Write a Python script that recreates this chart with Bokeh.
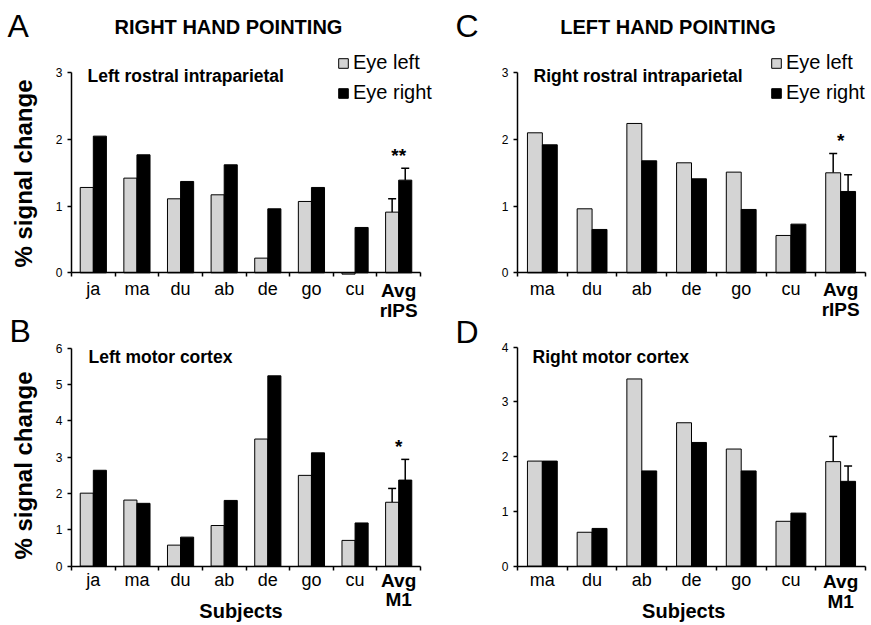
import math
import numpy as np
from bokeh.plotting import figure
from bokeh.models import (ColumnDataSource, FixedTicker, Label, Legend, LegendItem,
                          LinearAxis, Range1d, Whisker, TeeHead)
from bokeh.transform import dodge
from bokeh.embed import file_html
from bokeh.resources import INLINE

# ---------------- data ----------------
subjects_rh = ["ja", "ma", "du", "ab", "de", "go", "cu"]
subjects_lh = ["ma", "du", "ab", "de", "go", "cu"]

# A: right hand pointing, left rostral intraparietal (last = average)
a_eye_left = [1.28, 1.42, 1.11, 1.17, 0.22, 1.07, -0.02, 0.91]
a_eye_right = [2.05, 1.77, 1.37, 1.62, 0.96, 1.28, 0.68, 1.39]
a_sem = [0.20, 0.18]
a_yticks = [0, 1, 2, 3]

# B: right hand pointing, left motor cortex
b_eye_left = [2.01, 1.82, 0.58, 1.12, 3.50, 2.50, 0.71, 1.76]
b_eye_right = [2.64, 1.73, 0.80, 1.81, 5.24, 3.12, 1.19, 2.37]
b_sem = [0.38, 0.57]
b_yticks = [0, 1, 2, 3, 4, 5, 6]

# C: left hand pointing, right rostral intraparietal
c_eye_left = [2.10, 0.96, 2.24, 1.65, 1.51, 0.56, 1.50]
c_eye_right = [1.92, 0.65, 1.68, 1.41, 0.95, 0.73, 1.22]
c_sem = [0.29, 0.25]
c_yticks = [0, 1, 2, 3]

# D: left hand pointing, right motor cortex
d_eye_left = [1.92, 0.62, 3.42, 2.62, 2.14, 0.82, 1.91]
d_eye_right = [1.92, 0.69, 1.74, 2.26, 1.74, 0.97, 1.55]
d_sem = [0.46, 0.28]
d_yticks = [0, 1, 2, 3, 4]

series_names = ["Eye left", "Eye right"]

FONT = "Liberation Sans"
GRAY = "#d4d4d4"
W, H = 871, 625

p = figure(width=W, height=H, x_range=Range1d(0, W), y_range=Range1d(0, H),
           x_axis_type=None, y_axis_type=None, output_backend="svg",
           toolbar_location=None, min_border=0)
p.outline_line_color = None
p.background_fill_color = "white"
p.border_fill_color = "white"


def sx(X):
    return X


def sy(Y):
    return H - Y


def text(t, X, Y, size, bold=False, align="left", angle=0.0):
    # (X, Y) is the visual centre line of the text in page pixels
    p.add_layout(Label(x=sx(X), y=sy(Y), x_units="screen", y_units="screen", text=t,
                       text_font=FONT, text_font_size=size,
                       text_font_style="bold" if bold else "normal",
                       text_align=align, text_baseline="middle", angle=angle,
                       text_color="black"))


def panel(key, rect, subjects, avg_name, left, right, sem, yticks, region, region_pos,
          sig=None, legend_pos=None, label_standoff=2, avg_centers=(290, 310)):
    x0, x1, y0, y1 = rect  # page px of data x=0, x=n, y=0, y=ymax
    n = len(subjects) + 1
    ymax = yticks[-1]
    kx = (x1 - x0) / n
    ky = (y0 - y1) / ymax
    xr_name, yr_name = "x" + key, "y" + key
    p.extra_x_ranges[xr_name] = Range1d(-x0 / kx, (W - x0) / kx)
    p.extra_y_ranges[yr_name] = Range1d(-(H - y0) / ky, y0 / ky)
    rn = dict(x_range_name=xr_name, y_range_name=yr_name)

    centers = np.arange(n) + 0.5
    src = ColumnDataSource(dict(x=centers, left=left, right=right))
    r_left = p.vbar(x=dodge("x", -0.15), top="left", bottom=0, width=0.3, source=src,
                    fill_color=GRAY, line_color="black", line_width=1, **rn)
    r_right = p.vbar(x=dodge("x", 0.15), top="right", bottom=0, width=0.3, source=src,
                     fill_color="black", line_color="black", line_width=1, **rn)

    lo = [left[-1], right[-1]]
    up = [lo[0] + sem[0], lo[1] + sem[1]]
    wsrc = ColumnDataSource(dict(base=[centers[-1] - 0.15, centers[-1] + 0.15],
                                 lower=lo, upper=up))
    p.add_layout(Whisker(base="base", lower="lower", upper="upper", source=wsrc,
                         line_color="black", line_width=1.5, lower_head=None,
                         upper_head=TeeHead(size=8, line_color="black", line_width=1.5),
                         **rn))
    if sig:
        p.add_layout(Label(x=centers[-1], y=max(up), text=sig, text_align="center",
                           text_baseline="middle", y_offset=13, text_font=FONT,
                           text_font_size="19px", text_font_style="bold",
                           text_color="black", **rn))

    yax = LinearAxis(fixed_location=0, bounds=(0, ymax), ticker=FixedTicker(ticks=yticks), **rn)
    yax.major_tick_out = 4
    yax.major_tick_in = 0
    yax.minor_tick_out = 0
    yax.minor_tick_in = 0
    yax.axis_line_width = 1.5
    yax.major_tick_line_width = 1.5
    yax.major_label_text_font = FONT
    yax.major_label_text_font_size = "12px"
    yax.major_label_text_color = "black"
    yax.major_label_standoff = 5
    p.add_layout(yax, "left")

    overrides = {float(c): s for c, s in zip(centers[:-1], subjects)}
    overrides[float(centers[-1])] = ""
    xax = LinearAxis(fixed_location=0, bounds=(0, n),
                     ticker=FixedTicker(ticks=list(centers), minor_ticks=list(range(n + 1))),
                     major_label_overrides=overrides, **rn)
    xax.major_tick_out = 0
    xax.major_tick_in = 0
    xax.minor_tick_out = 4
    xax.minor_tick_in = 0
    xax.minor_tick_line_width = 1.5
    xax.axis_line_width = 1.5
    xax.major_label_text_font = FONT
    xax.major_label_text_font_size = "18px"
    xax.major_label_text_color = "black"
    xax.major_label_standoff = label_standoff
    p.add_layout(xax, "below")

    # bold two-line tick label of the average
    a1, a2 = avg_name.split("\n")
    for t, cy in zip((a1, a2), avg_centers):
        p.add_layout(Label(x=centers[-1], y=sy(cy), y_units="screen", text=t,
                           text_align="center", text_baseline="middle", text_font=FONT,
                           text_font_size="19px", text_font_style="bold",
                           text_color="black", x_range_name=xr_name))

    text(region, region_pos[0], region_pos[1], "17.5px", bold=True)

    if legend_pos:
        leg = Legend(items=[LegendItem(label=series_names[0], renderers=[r_left]),
                            LegendItem(label=series_names[1], renderers=[r_right])],
                     location=(sx(legend_pos[0]), sy(legend_pos[1])),
                     glyph_width=12, glyph_height=12, label_standoff=4,
                     label_text_font=FONT, label_text_font_size="20px",
                     label_text_color="black",
                     label_height=22, spacing=7, padding=0, margin=0,
                     border_line_color=None, background_fill_alpha=0)
        p.add_layout(leg)


panel("A", (71, 420, 272.3, 72.3), subjects_rh, "Avg\nrIPS", a_eye_left, a_eye_right,
      a_sem, a_yticks, "Left rostral intraparietal", (87, 75), sig="**",
      legend_pos=(337, 104), label_standoff=2, avg_centers=(290, 310))
panel("C", (517, 865, 272.3, 72.3), subjects_lh, "Avg\nrIPS", c_eye_left, c_eye_right,
      c_sem, c_yticks, "Right rostral intraparietal", (533, 75), sig="*",
      legend_pos=(770, 104), label_standoff=2, avg_centers=(289, 309))
panel("B", (71, 420, 565.7, 347.7), subjects_rh, "Avg\nM1", b_eye_left, b_eye_right,
      b_sem, b_yticks, "Left motor cortex", (88, 356), sig="*",
      label_standoff=0, avg_centers=(579.5, 599))
panel("D", (517, 865, 565.7, 346.7), subjects_lh, "Avg\nM1", d_eye_left, d_eye_right,
      d_sem, d_yticks, "Right motor cortex", (532, 356),
      label_standoff=0, avg_centers=(581, 601))

# panel letters, headings and axis titles
text("A", 7, 25, "32px")
text("C", 455, 25, "32px")
text("B", 9, 330, "32px")
text("D", 455, 331, "32px")
text("RIGHT HAND POINTING", 228, 26.5, "20px", bold=True, align="center")
text("LEFT HAND POINTING", 667.5, 26.5, "20px", bold=True, align="center")
text("% signal change", 23, 173, "24px", bold=True, align="center", angle=math.pi / 2)
text("% signal change", 23, 465, "24px", bold=True, align="center", angle=math.pi / 2)
text("Subjects", 240.5, 610, "20px", bold=True, align="center")
text("Subjects", 683.3, 610, "20px", bold=True, align="center")

open("out.html", "w").write(file_html(p, INLINE))
